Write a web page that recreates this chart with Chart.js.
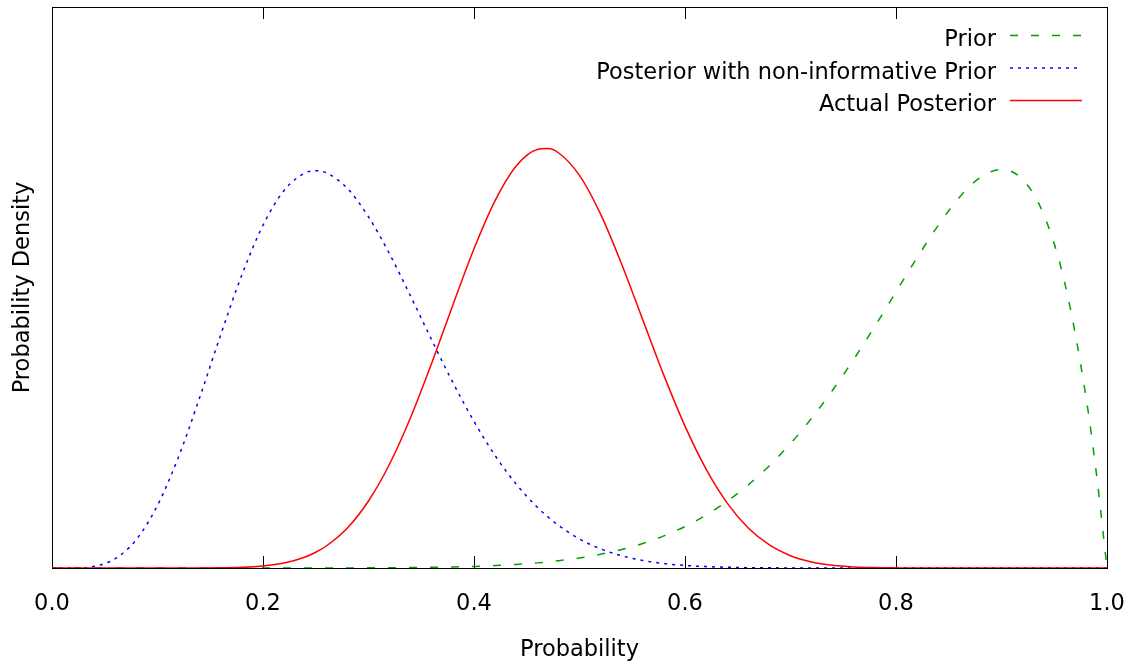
<!DOCTYPE html>
<html>
<head>
<meta charset="utf-8">
<script src="https://cdn.jsdelivr.net/npm/chart.js@4"></script>
<style>
  body { margin: 0; background: #fff; }
  #wrap { width: 1135px; height: 664px; }
</style>
</head>
<body>
<div id="wrap"><canvas id="chart" width="1135" height="664"></canvas></div>
<script>
// x grid (probability) and densities
const probability = [0, 0.02, 0.04, 0.06, 0.08, 0.10, 0.12, 0.14, 0.16, 0.18,
  0.20, 0.22, 0.24, 0.25, 0.26, 0.28, 0.30, 0.32, 0.34, 0.36,
  0.38, 0.40, 0.42, 0.44, 0.46, 0.47, 0.48, 0.50, 0.52, 0.54,
  0.56, 0.58, 0.60, 0.62, 0.64, 0.66, 0.68, 0.70, 0.72, 0.74,
  0.76, 0.78, 0.80, 0.82, 0.84, 0.86, 0.88, 0.90, 0.92, 0.94,
  0.96, 0.98, 0.99, 1.0];

const prior = [0, 0, 0, 0, 0, 0, 0, 0, 0, 0,
  0, 0.0001, 0.0002, 0.0003, 0.0004, 0.0008, 0.0015, 0.0026, 0.0044, 0.0072,
  0.0113, 0.0173, 0.0259, 0.0381, 0.0548, 0.0653, 0.0774, 0.1074, 0.1468, 0.1976,
  0.2621, 0.3432, 0.4434, 0.5659, 0.7134, 0.8887, 1.0943, 1.3317, 1.6016, 1.9031,
  2.2332, 2.5862, 2.9528, 3.3189, 3.6646, 3.9628, 4.1775, 4.2616, 4.1550, 3.7818,
  3.0472, 1.8343, 1.0049, 0];

const flatPosterior = [0, 0.0008, 0.0181, 0.1001, 0.3054, 0.6704, 1.1907, 1.8230, 2.4972, 3.1349,
  3.6658, 4.0384, 4.2260, 4.2490, 4.2268, 4.0593, 3.7562, 3.3579, 2.9055, 2.4371,
  1.9836, 1.5676, 1.2032, 0.8969, 0.6492, 0.5461, 0.4560, 0.3105, 0.2048, 0.1306,
  0.0804, 0.0477, 0.0272, 0.0148, 0.0077, 0.0038, 0.0018, 0.0008, 0.0003, 0.0001,
  0, 0, 0, 0, 0, 0, 0, 0, 0, 0,
  0, 0, 0, 0];

const actualPosterior = [0, 0, 0, 0, 0, 0, 0.0001, 0.0004, 0.0020, 0.0071,
  0.0208, 0.0527, 0.1175, 0.1683, 0.2352, 0.4281, 0.7166, 1.1124, 1.6122, 2.1934,
  2.8134, 3.4138, 3.9293, 4.2994, 4.4768, 4.4858, 4.4411, 4.1991, 3.7841, 3.2482,
  2.6538, 2.0604, 1.5173, 1.0569, 0.6940, 0.4278, 0.2463, 0.1316, 0.0648, 0.0290,
  0.0117, 0.0042, 0.0013, 0.0004, 0.0001, 0, 0, 0, 0, 0,
  0, 0, 0, 0];

const xTicks = [0, 0.2, 0.4, 0.6, 0.8, 1.0];

const FONT = "'DejaVu Sans', 'Liberation Sans', sans-serif";
Chart.defaults.font.family = FONT;
Chart.defaults.font.size = 22.5;
Chart.defaults.color = '#000';

function points(ys) {
  return probability.map((x, i) => ({ x: x, y: ys[i] }));
}

// gnuplot-like frame with inward ticks top and bottom
const framePlugin = {
  id: 'frame',
  beforeDatasetsDraw(chart) {
    const { ctx, chartArea: a, scales } = chart;
    ctx.save();
    ctx.strokeStyle = '#000';
    ctx.lineWidth = 1;
    ctx.strokeRect(a.left + 0.5, a.top + 0.5, a.right - a.left, a.bottom - a.top);
    ctx.beginPath();
    xTicks.forEach(v => {
      const px = Math.round(scales.x.getPixelForValue(v)) + 0.5;
      ctx.moveTo(px, a.bottom);
      ctx.lineTo(px, a.bottom - 12);
      ctx.moveTo(px, a.top);
      ctx.lineTo(px, a.top + 12);
    });
    ctx.stroke();
    ctx.restore();
  }
};

// key in the top right corner, text then line sample
const keyPlugin = {
  id: 'key',
  afterDatasetsDraw(chart) {
    const { ctx } = chart;
    ctx.save();
    ctx.font = '22.5px ' + FONT;
    ctx.textAlign = 'right';
    ctx.textBaseline = 'alphabetic';
    chart.data.datasets.forEach((ds, i) => {
      const y = 35 + i * 32.5;
      ctx.fillStyle = '#000';
      ctx.fillText(ds.label, 996, y + 11);
      ctx.strokeStyle = ds.borderColor;
      ctx.lineWidth = ds.borderWidth;
      ctx.setLineDash(ds.borderDash || []);
      ctx.beginPath();
      ctx.moveTo(1010, y + 0.5);
      ctx.lineTo(1082, y + 0.5);
      ctx.stroke();
    });
    ctx.restore();
  }
};

new Chart(document.getElementById('chart'), {
  type: 'line',
  data: {
    datasets: [
      {
        label: 'Prior',
        data: points(prior),
        borderColor: '#00a000',
        borderWidth: 1.5,
        borderDash: [8, 13],
        order: 3
      },
      {
        label: 'Posterior with non-informative Prior',
        data: points(flatPosterior),
        borderColor: '#0000ff',
        borderWidth: 1.5,
        borderDash: [3, 5],
        order: 2
      },
      {
        label: 'Actual Posterior',
        data: points(actualPosterior),
        borderColor: '#ff0000',
        borderWidth: 1.5,
        order: 1
      }
    ]
  },
  options: {
    responsive: false,
    animation: false,
    layout: { padding: { top: 7, right: 28, left: 0, bottom: 0 } },
    elements: {
      point: { radius: 0 },
      line: { cubicInterpolationMode: 'monotone', fill: false }
    },
    plugins: {
      legend: { display: false },
      tooltip: { enabled: false }
    },
    scales: {
      x: {
        type: 'linear',
        min: 0,
        max: 1,
        afterBuildTicks: scale => { scale.ticks = xTicks.map(v => ({ value: v })); },
        afterFit: scale => {
          scale.height = 96;
          scale.paddingLeft = 0;
          scale.paddingRight = 0;
        },
        ticks: {
          padding: 23,
          maxRotation: 0,
          callback: v => v.toFixed(1)
        },
        grid: { display: false, drawTicks: false },
        border: { display: false },
        title: {
          display: true,
          text: 'Probability',
          padding: { top: 0, bottom: 0 }
        }
      },
      y: {
        min: 0,
        max: 6,
        afterFit: scale => { scale.width = 52; },
        ticks: { display: false },
        grid: { display: false, drawTicks: false },
        border: { display: false },
        title: {
          display: true,
          text: 'Probability Density',
          padding: { top: 10, bottom: 0 }
        }
      }
    }
  },
  plugins: [framePlugin, keyPlugin]
});
</script>
</body>
</html>
